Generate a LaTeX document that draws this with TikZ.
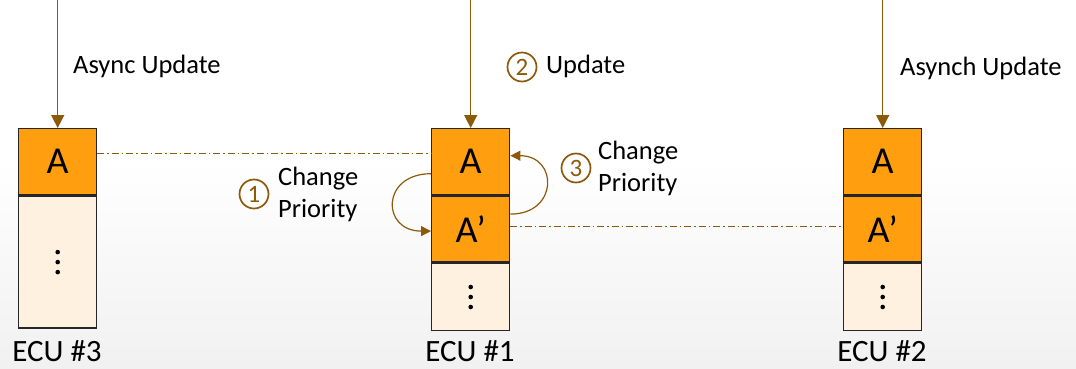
\documentclass[tikz,border=0pt]{standalone}
\usepackage{fontspec}
\setmainfont{Carlito}
\usetikzlibrary{arrows.meta}
\definecolor{boxorange}{HTML}{FF9F10}
\definecolor{boxlight}{HTML}{FEF1E0}
\definecolor{brownline}{HTML}{8B5A0A}
\definecolor{bglow}{HTML}{F1F1F1}
\tikzset{
  cell/.style={draw=black!85, line width=1.4pt, minimum width=78pt, inner sep=0pt, font=\fontsize{38}{40}\selectfont},
  hot/.style={cell, fill=boxorange, minimum height=66pt},
  rest/.style={cell, fill=boxlight},
  upd/.style={draw=brownline, line width=1.5pt, -{Triangle[length=13pt,width=13pt]}},
  link/.style={draw=brownline, line width=0.9pt, dash pattern=on 7pt off 3pt on 1.5pt off 3pt},
  prio/.style={draw=brownline, line width=1.2pt, -{Triangle[length=10pt,width=10pt]}},
  num/.style={circle, draw=brownline, line width=1.7pt, minimum size=29pt, inner sep=0pt, text=brownline, font=\fontsize{25}{25}\selectfont},
  lbl/.style={font=\fontsize{26.5}{32}\selectfont, inner sep=0pt},
  ecu/.style={font=\fontsize{31}{32}\selectfont, inner sep=0pt}
}
\newcommand{\vdotsmark}[1]{%
  \fill (#1) ++(0,-10) circle (2.3pt) ++(0,10) circle (2.3pt) ++(0,10) circle (2.3pt);}
\begin{document}
\begin{tikzpicture}[x=1pt, y=-1pt]
\useasboundingbox (0,0) rectangle (1076,368);
\fill[white] (0,0) rectangle (1076,160);
\shade[top color=white, bottom color=bglow] (0,160) rectangle (1076,368);

% ECU #3
\node[hot, anchor=north west] (a3) at (18,128) {A};
\node[rest, anchor=north, minimum height=132pt] (r3) at (a3.south) {};
% ECU #1
\node[hot, anchor=north west] (a1) at (431,128) {A};
\node[hot, anchor=north] (b1) at (a1.south) {A’};
\node[rest, anchor=north, minimum height=67pt] (r1) at (b1.south) {};
% ECU #2
\node[hot, anchor=north west] (a2) at (843,128) {A};
\node[hot, anchor=north] (b2) at (a2.south) {A’};
\node[rest, anchor=north, minimum height=67pt] (r2) at (b2.south) {};
\vdotsmark{r3.center}
\vdotsmark{r1.center}
\vdotsmark{r2.center}

% update arrows
\coordinate (t3) at (a3.north |- 0,0);
\coordinate (t1) at (a1.north |- 0,0);
\coordinate (t2) at (a2.north |- 0,0);
\draw[upd] (t3) -- (a3.north);
\draw[upd] (t1) -- (a1.north);
\draw[upd] (t2) -- (a2.north);

\node[lbl, anchor=base west] (l3) at (73,73) {Async Update};
\node[num] (n2) at (522,67) {2};
\node[lbl, anchor=base west] (l1) at (546,73) {Update};
\node[lbl, anchor=base west] (l2) at (900,75) {Asynch Update};

% dash-dot links
\draw[link] ([yshift=8pt]a3.east) -- ([yshift=8pt]a1.west);
\draw[link] ([yshift=3pt]b1.east) -- ([yshift=3pt]b2.west);

% priority changes
\draw[prio] ([yshift=-12pt]a1.west) .. controls +(-50pt,0) and +(-50pt,0) .. ([yshift=-2pt]b1.west);
\draw[prio] ([yshift=15pt]b1.east) .. controls +(48pt,0) and +(48pt,0) .. ([yshift=6pt]a1.east);

\node[num] (n1) at (254,194) {1};
\node[lbl, anchor=west, align=left] (c1) at (278,194) {Change\\Priority};
\node[num] (n3) at (576,168) {3};
\node[lbl, anchor=west, align=left] (c3) at (598,168) {Change\\Priority};

% ECU labels
\node[ecu, anchor=base] (e3) at (57,361) {ECU \#3};
\node[ecu, anchor=base] (e1) at (470,361) {ECU \#1};
\node[ecu, anchor=base] (e2) at (882,361) {ECU \#2};
\end{tikzpicture}
\end{document}
